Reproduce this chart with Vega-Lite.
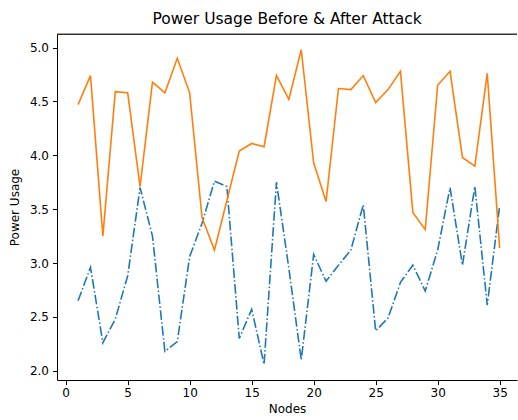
{
  "$schema": "https://vega.github.io/schema/vega-lite/v6.json",
  "autosize": "none",
  "width": 460,
  "height": 346,
  "padding": {"left": 57, "top": 34, "right": 1, "bottom": 40},
  "background": "white",
  "config": {
    "view": {"stroke": null},
    "font": "DejaVu Sans",
    "axis": {"grid": false, "domainColor": "black", "tickColor": "black", "labelColor": "black", "titleColor": "black", "labelFont": "DejaVu Sans", "titleFont": "DejaVu Sans", "labelFontSize": 12, "titleFontSize": 12, "titleFontWeight": "normal", "tickSize": 4.5, "domainWidth": 1, "tickWidth": 1}
  },
  "title": {"text": "Power Usage Before & After Attack", "fontSize": 15.5, "fontWeight": "normal", "font": "DejaVu Sans", "color": "black", "anchor": "middle", "offset": 6},
  "datasets": {
    "power": [
      {"node": 1, "before": 2.65, "after": 4.47},
      {"node": 2, "before": 2.96, "after": 4.74},
      {"node": 3, "before": 2.26, "after": 3.25},
      {"node": 4, "before": 2.48, "after": 4.59},
      {"node": 5, "before": 2.88, "after": 4.58},
      {"node": 6, "before": 3.70, "after": 3.71},
      {"node": 7, "before": 3.25, "after": 4.68},
      {"node": 8, "before": 2.18, "after": 4.58},
      {"node": 9, "before": 2.27, "after": 4.90},
      {"node": 10, "before": 3.06, "after": 4.58},
      {"node": 11, "before": 3.37, "after": 3.42},
      {"node": 12, "before": 3.76, "after": 3.12},
      {"node": 13, "before": 3.71, "after": 3.58},
      {"node": 14, "before": 2.30, "after": 4.04},
      {"node": 15, "before": 2.57, "after": 4.11},
      {"node": 16, "before": 2.06, "after": 4.08},
      {"node": 17, "before": 3.75, "after": 4.74},
      {"node": 18, "before": 2.95, "after": 4.52},
      {"node": 19, "before": 2.10, "after": 4.98},
      {"node": 20, "before": 3.08, "after": 3.93},
      {"node": 21, "before": 2.83, "after": 3.57},
      {"node": 22, "before": 2.98, "after": 4.62},
      {"node": 23, "before": 3.12, "after": 4.61},
      {"node": 24, "before": 3.54, "after": 4.74},
      {"node": 25, "before": 2.37, "after": 4.49},
      {"node": 26, "before": 2.49, "after": 4.61},
      {"node": 27, "before": 2.82, "after": 4.78},
      {"node": 28, "before": 2.98, "after": 3.47},
      {"node": 29, "before": 2.74, "after": 3.31},
      {"node": 30, "before": 3.12, "after": 4.65},
      {"node": 31, "before": 3.70, "after": 4.78},
      {"node": 32, "before": 2.98, "after": 3.98},
      {"node": 33, "before": 3.71, "after": 3.90},
      {"node": 34, "before": 2.61, "after": 4.76},
      {"node": 35, "before": 3.53, "after": 3.14}
    ]
  },
  "data": {"name": "power"},
  "layer": [
    {
      "mark": {"type": "line", "color": "#1f77b4", "strokeWidth": 1.6, "strokeDash": [9.6, 2.4, 1.5, 2.4]},
      "encoding": {
        "x": {"field": "node", "type": "quantitative", "scale": {"domain": [-0.7, 36.4], "nice": false, "zero": false}, "axis": {"values": [0, 5, 10, 15, 20, 25, 30, 35], "title": "Nodes", "titlePadding": 5, "labelPadding": 3}},
        "y": {"field": "before", "type": "quantitative", "scale": {"domain": [1.914, 5.126], "nice": false, "zero": false}, "axis": {"values": [2.0, 2.5, 3.0, 3.5, 4.0, 4.5, 5.0], "format": ".1f", "title": "Power Usage", "titlePadding": 8, "labelPadding": 4}}
      }
    },
    {
      "mark": {"type": "line", "color": "#ff7f0e", "strokeWidth": 1.6},
      "encoding": {
        "x": {"field": "node", "type": "quantitative"},
        "y": {"field": "after", "type": "quantitative"}
      }
    },
    {
      "mark": {"type": "rule", "color": "#333333", "strokeWidth": 1},
      "encoding": {"y": {"datum": 5.1214, "type": "quantitative"}}
    }
  ]
}
